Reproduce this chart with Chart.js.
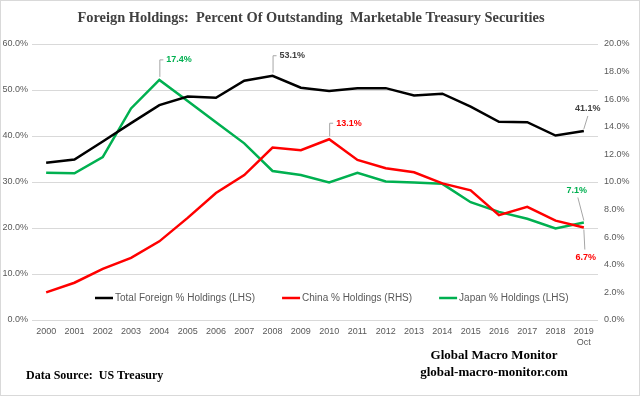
<!DOCTYPE html>
<html>
<head>
<meta charset="utf-8">
<script src="https://cdn.jsdelivr.net/npm/chart.js@4/dist/chart.umd.min.js"></script>
<style>
  html, body { margin: 0; padding: 0; background: #fff; }
  #wrap { width: 640px; height: 396px; }
</style>
</head>
<body>
<div id="wrap"><canvas id="foreignChart" width="640" height="396"></canvas></div>
<script>
// === DADOS ===
const years = ['2000','2001','2002','2003','2004','2005','2006','2007','2008','2009',
               '2010','2011','2012','2013','2014','2015','2016','2017','2018','2019'];
const totalForeign = [34.2, 34.9, 38.8, 42.8, 46.7, 48.6, 48.3, 52.0, 53.1, 50.5,
                      49.8, 50.4, 50.4, 48.8, 49.2, 46.4, 43.1, 43.0, 40.1, 41.1];
const china = [2.0, 2.7, 3.7, 4.5, 5.7, 7.4, 9.2, 10.5, 12.5, 12.3,
               13.1, 11.6, 11.0, 10.7, 9.9, 9.4, 7.6, 8.2, 7.2, 6.7];
const japan = [32.0, 31.9, 35.4, 46.0, 52.2, 47.6, 43.0, 38.4, 32.4, 31.5,
               29.9, 32.0, 30.1, 29.9, 29.6, 25.6, 23.5, 22.0, 19.9, 21.2];
const lastLabelNote = 'Oct';
const leftTicks = { min: 0, max: 60, step: 10 };
const rightTicks = { min: 0, max: 20, step: 2 };
// callouts: [dataset index, point index, text]
const callouts = [
    [2, 4, '17.4%'],
    [0, 8, '53.1%'],
    [1, 10, '13.1%'],
    [0, 19, '41.1%'],
    [2, 19, '7.1%'],
    [1, 19, '6.7%']
];

const labels = years.map((y, i) => i === years.length - 1 ? [y, lastLabelNote] : y);
const GRAY = '#595959';
const SANS = "'Liberation Sans', Arial, sans-serif";
const SERIF = "'Liberation Serif', 'Times New Roman', serif";

// === PLUGIN: títulos, legenda, rótulos ===
const extras = {
    id: 'extras',
    afterDraw(chart) {
        const c = chart.ctx;
        const x = chart.scales.x;
        c.save();

        // border
        c.strokeStyle = '#d9d9d9';
        c.lineWidth = 1;
        c.strokeRect(0.5, 0.5, chart.width - 1, chart.height - 1);

        // title
        c.fillStyle = '#404040';
        c.font = 'bold 14.4px ' + SERIF;
        c.textAlign = 'center';
        c.textBaseline = 'middle';
        c.fillText('Foreign Holdings:  Percent Of Outstanding  Marketable Treasury Securities', 311, 18);

        // footer texts
        c.fillStyle = '#000';
        c.font = 'bold 12px ' + SERIF;
        c.textAlign = 'left';
        c.fillText('Data Source:  US Treasury', 26, 376);
        c.font = 'bold 13px ' + SERIF;
        c.textAlign = 'center';
        c.fillText('Global Macro Monitor', 494, 356);
        c.fillText('global-macro-monitor.com', 494, 373);

        // legend
        c.font = '10px ' + SANS;
        c.textAlign = 'left';
        let lx = 95;
        const ly = 298;
        chart.data.datasets.forEach(ds => {
            c.strokeStyle = ds.borderColor;
            c.lineWidth = 2.5;
            c.beginPath();
            c.moveTo(lx, ly);
            c.lineTo(lx + 18, ly);
            c.stroke();
            c.fillStyle = GRAY;
            c.fillText(ds.label, lx + 20, ly);
            lx += 20 + c.measureText(ds.label).width + 27;
        });

        // callouts
        c.font = 'bold 9px ' + SANS;
        c.lineWidth = 1;
        c.strokeStyle = '#a6a6a6';
        callouts.forEach(([di, pi, text], k) => {
            const ds = chart.data.datasets[di];
            const sc = chart.scales[ds.yAxisID];
            const px = x.getPixelForValue(pi);
            const py = sc.getPixelForValue(ds.data[pi]);
            const col = ds.borderColor === '#000000' ? '#404040' : ds.borderColor;
            c.fillStyle = col;
            c.beginPath();
            if (k < 3) {
                const top = py - (k === 2 ? 16 : 20);
                c.moveTo(px + 0.5, py - 3);
                c.lineTo(px + 0.5, top);
                c.lineTo(px + 4, top);
                c.stroke();
                c.textAlign = 'left';
                c.fillText(text, px + 7, top);
            } else if (k === 3) {
                c.moveTo(px, py - 2);
                c.lineTo(px + 4, py - 15);
                c.stroke();
                c.textAlign = 'center';
                c.fillText(text, px + 4, py - 22);
            } else if (k === 4) {
                c.moveTo(px, py - 2);
                c.lineTo(px - 6, py - 25);
                c.stroke();
                c.textAlign = 'center';
                c.fillText(text, px - 7, py - 32);
            } else {
                c.moveTo(px, py + 2);
                c.lineTo(px + 1, py + 22);
                c.stroke();
                c.textAlign = 'center';
                c.fillText(text, px + 2, py + 30);
            }
        });
        c.restore();
    }
};

// === GRÁFICO ===
const ctx = document.getElementById('foreignChart').getContext('2d');
new Chart(ctx, {
    type: 'line',
    data: {
        labels: labels,
        datasets: [
            { label: 'Total Foreign % Holdings (LHS)', data: totalForeign, borderColor: '#000000', yAxisID: 'yL' },
            { label: 'China % Holdings (RHS)', data: china, borderColor: '#ff0000', yAxisID: 'yR' },
            { label: 'Japan % Holdings (LHS)', data: japan, borderColor: '#00b050', yAxisID: 'yL' }
        ]
    },
    options: {
        responsive: false,
        animation: false,
        devicePixelRatio: 1,
        layout: { padding: { top: 44, left: 0, right: 0, bottom: 0 } },
        elements: {
            line: { borderWidth: 2.5, tension: 0, fill: false },
            point: { radius: 0 }
        },
        plugins: { legend: { display: false }, tooltip: { enabled: false } },
        scales: {
            x: {
                offset: true,
                grid: { display: false, drawTicks: false },
                border: { display: false },
                ticks: { color: GRAY, font: { family: SANS, size: 9 }, padding: 6, autoSkip: false, maxRotation: 0 },
                afterFit: s => { s.height = 76; }
            },
            yL: {
                position: 'left',
                min: leftTicks.min, max: leftTicks.max,
                grid: { color: '#d9d9d9', drawTicks: false },
                border: { display: false },
                ticks: { stepSize: leftTicks.step, color: GRAY, font: { family: SANS, size: 9 }, padding: 4,
                         callback: v => v.toFixed(1) + '%' },
                afterFit: s => { s.width = 32; }
            },
            yR: {
                position: 'right',
                min: rightTicks.min, max: rightTicks.max,
                grid: { display: false, drawTicks: false },
                border: { display: false },
                ticks: { stepSize: rightTicks.step, color: GRAY, font: { family: SANS, size: 9 }, padding: 6,
                         callback: v => v.toFixed(1) + '%' },
                afterFit: s => { s.width = 42; }
            }
        }
    },
    plugins: [extras]
});
</script>
</body>
</html>
